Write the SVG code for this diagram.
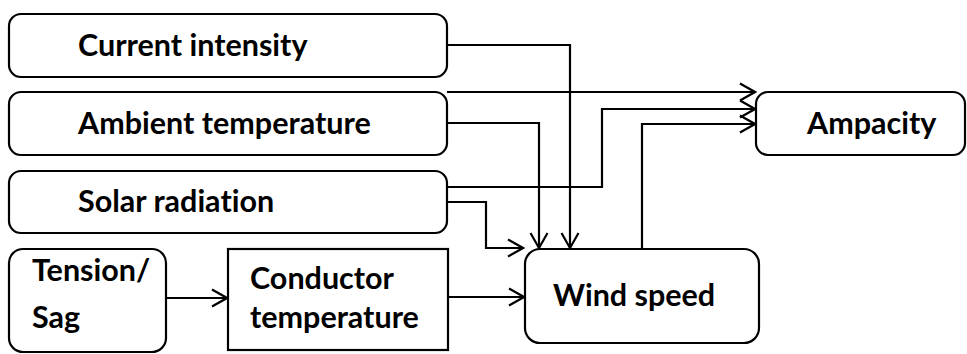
<svg xmlns="http://www.w3.org/2000/svg" width="967" height="354" viewBox="0 0 967 354">
<style>
.box{fill:#fff;stroke:#000;stroke-width:2.2}
.t{font-family:Lato,"Liberation Sans",sans-serif;font-weight:bold;font-size:30.5px;fill:#000;font-variant-ligatures:none;font-feature-settings:"liga" 0,"dlig" 0}
.c{fill:none;stroke:#000;stroke-width:2.2}
</style>
<defs>
<marker id="a" markerUnits="userSpaceOnUse" markerWidth="18" markerHeight="22" refX="16" refY="10" orient="auto" viewBox="0 0 18 20">
<path d="M1,1.5 L16,10 L1,18.5" fill="none" stroke="#000" stroke-width="2.2"/>
</marker>
</defs>
<rect width="967" height="354" fill="#fff"/>
<g id="connectors">
<path class="c" d="M447,45 H570 V248" marker-end="url(#a)"/>
<path class="c" d="M447,92 H755" marker-end="url(#a)"/>
<path class="c" d="M447,123 H539 V248" marker-end="url(#a)"/>
<path class="c" d="M447,187 H602 V109 H755" marker-end="url(#a)"/>
<path class="c" d="M447,202 H486 V248 H523" marker-end="url(#a)"/>
<path class="c" d="M642,249 V124 H755" marker-end="url(#a)"/>
<path class="c" d="M448,297 H524" marker-end="url(#a)"/>
<path class="c" d="M166,298 H227" marker-end="url(#a)"/>
</g>
<g id="current"><rect class="box" x="9" y="14" width="438" height="63" rx="12"/><text class="t" x="78" y="56">Current intensity</text></g>
<g id="ambient"><rect class="box" x="9" y="92" width="438" height="63" rx="12"/><text class="t" x="78" y="134">Ambient temperature</text></g>
<g id="solar"><rect class="box" x="9" y="171" width="438" height="62" rx="12"/><text class="t" x="78" y="212">Solar radiation</text></g>
<g id="tension"><rect class="box" x="9" y="249" width="157" height="103" rx="14"/><text class="t" x="32" y="281">Tension/</text><text class="t" x="32" y="328">Sag</text></g>
<g id="conductor"><rect class="box" x="228" y="249" width="220" height="101"/><text class="t" x="250" y="289">Conductor</text><text class="t" x="250" y="328">temperature</text></g>
<g id="wind"><rect class="box" x="525" y="249" width="234" height="94" rx="15"/><text class="t" x="553" y="306">Wind speed</text></g>
<g id="ampacity"><rect class="box" x="756" y="92" width="209" height="63" rx="12"/><text class="t" x="807" y="134">Ampacity</text></g>
</svg>
